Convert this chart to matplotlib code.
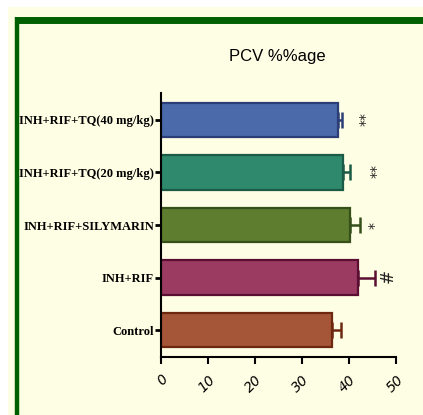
import matplotlib
matplotlib.use("Agg")
import matplotlib.pyplot as plt
from matplotlib.lines import Line2D
from matplotlib.patches import Rectangle

# data
groups = ["Control", "INH+RIF", "INH+RIF+SILYMARIN",
          "INH+RIF+TQ(20 mg/kg)", "INH+RIF+TQ(40 mg/kg)"]
pcv = [36.3, 41.9, 40.2, 38.7, 37.7]
sem = [2.1, 3.6, 2.1, 1.5, 0.8]
marks = ["", "#", "*", "**", "**"]
mark_x = [0, 47.2, 44.0, 44.3, 42.1]
xticks = [0, 10, 20, 30, 40, 50]

fills = ["#a65638", "#9b3b62", "#5e7d2e", "#2f8a6d", "#4a6aaa"]
edges = ["#6e2810", "#5a0f32", "#36501a", "#1b5a45", "#2c3e78"]

cream = "#fefee4"
fig = plt.figure(figsize=(4.23, 4.15), dpi=100)
fig.patch.set_facecolor("white")
fig.patches.append(Rectangle((8 / 423, 0), 1, 1 - 7 / 415, transform=fig.transFigure,
                             facecolor=cream, edgecolor="none", zorder=-5))
# green frame (top + left)
fig.lines.append(Line2D([15 / 423, 1], [1 - 20.5 / 415] * 2, transform=fig.transFigure,
                        color="#006000", lw=5.0, solid_capstyle="butt", zorder=-4))
fig.lines.append(Line2D([17 / 423] * 2, [0, 1 - 17 / 415], transform=fig.transFigure,
                        color="#006000", lw=3.2, solid_capstyle="butt", zorder=-4))

ax = fig.add_axes([161 / 423, 1 - 357 / 415, (396 - 161) / 423, (357 - 93) / 415])
ax.patch.set_alpha(0)

y = range(len(groups))
for i in y:
    ax.barh(i, pcv[i], height=0.65, color=fills[i], edgecolor=edges[i], linewidth=1.6, zorder=2)
    ax.errorbar(pcv[i], i, xerr=[[0], [sem[i]]], fmt="none", ecolor=edges[i],
                elinewidth=1.8, capsize=6, capthick=1.8, zorder=1)
    if marks[i]:
        ax.text(mark_x[i], i, marks[i], rotation=-90, ha="center", va="center",
                fontsize=10 if marks[i] != "#" else 12, color="#222222",
                family="DejaVu Sans")

ax.set_xlim(0, 50)
ax.set_ylim(-0.51, 4.51)
ax.set_xticks(xticks)
ax.set_xticklabels([str(t) for t in xticks], rotation=45, ha="right", va="top",
                   fontsize=10, fontstyle="italic", family="DejaVu Sans",
                   rotation_mode="anchor")
ax.set_yticks(list(y))
ax.set_yticklabels(groups, fontsize=9, fontweight="bold", family="Liberation Serif")

for s in ["top", "right"]:
    ax.spines[s].set_visible(False)
for s in ["left", "bottom"]:
    ax.spines[s].set_linewidth(1.5)
ax.tick_params(axis="x", length=5, width=1.5, pad=6)
ax.tick_params(axis="y", length=4, width=2, pad=1)

fig.text(277 / 423, 1 - 57 / 415, "PCV %%age", ha="center", va="center", fontsize=12,
         family=["Liberation Sans Narrow", "Liberation Sans"])

fig.savefig("out.png", dpi=100)
